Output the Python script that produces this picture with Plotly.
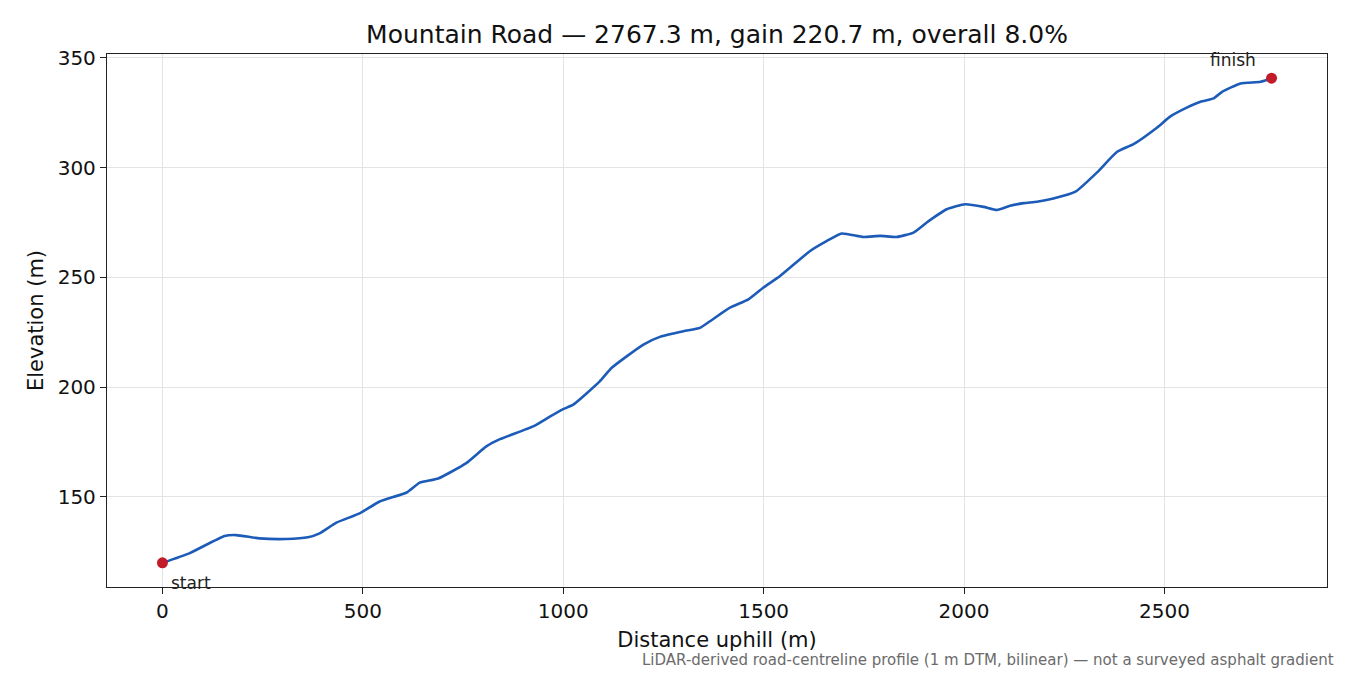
import plotly.graph_objects as go

# profile (distance along road, elevation)
distance = [0, 67, 155, 184, 242, 309, 363, 392, 434, 492, 542, 609, 642, 688,
            758, 808, 842, 925, 966, 1000, 1025, 1091, 1121, 1200, 1241, 1300,
            1341, 1366, 1416, 1462, 1499, 1541, 1616, 1658, 1695, 1749, 1791,
            1832, 1874, 1907, 1957, 2003, 2049, 2082, 2115, 2149, 2182, 2223,
            2278, 2332, 2382, 2423, 2482, 2515, 2557, 2590, 2623, 2644, 2690,
            2740, 2767.3]
elevation = [120, 124.3, 132.2, 132.6, 131.1, 130.8, 131.6, 133.4, 138.3, 142.5,
             147.9, 152, 156.5, 158.4, 165.4, 173, 176.3, 182.1, 186.5, 190, 192,
             202.6, 208.8, 219.4, 222.9, 225.5, 227, 230, 236.2, 240, 245.3,
             250.6, 262, 266.6, 270, 268.4, 268.9, 268.4, 270.4, 275, 281, 283.3,
             282.1, 280.7, 282.6, 283.8, 284.4, 285.9, 289, 297.8, 307.2, 310.7,
             318.3, 323.3, 327.4, 330, 331.5, 334.5, 338.3, 339.1, 340.7]

end_labels = ["start", "finish"]
x_ticks = [0, 500, 1000, 1500, 2000, 2500]
y_ticks = [150, 200, 250, 300, 350]

length = distance[-1]
gain = elevation[-1] - elevation[0]
grade = gain / length * 100

pad_x = length * 0.05
pad_y = gain * 0.05

fig = go.Figure()
fig.add_trace(go.Scatter(x=distance, y=elevation, mode="lines",
                         line=dict(color="#1c5cb8", width=2.6, shape="spline", smoothing=0.5),
                         hoverinfo="x+y"))
fig.add_trace(go.Scatter(x=[distance[0], distance[-1]], y=[elevation[0], elevation[-1]],
                         mode="markers", marker=dict(color="#c21b2a", size=11)))

fig.add_annotation(x=distance[0], y=elevation[0], text=end_labels[0], showarrow=False,
                   xanchor="left", yanchor="middle", xshift=7, yshift=-20,
                   font=dict(size=17, color="#222"))
fig.add_annotation(x=distance[-1], y=elevation[-1], text=end_labels[1], showarrow=False,
                   xanchor="center", yanchor="middle", xshift=-39, yshift=18,
                   font=dict(size=17, color="#222"))
fig.add_annotation(x=1.0074, y=0, xref="paper", yref="paper", xanchor="right", yanchor="middle",
                   yshift=-73, showarrow=False,
                   text="LiDAR-derived road-centreline profile (1 m DTM, bilinear) — not a surveyed asphalt gradient",
                   font=dict(size=15, color="#6b6b6b"))

axis_style = dict(showline=True, linecolor="#222", linewidth=1.3, mirror=True,
                  ticks="outside", ticklen=6, tickwidth=1.3, tickcolor="#222",
                  showgrid=True, gridcolor="#e3e3e3", gridwidth=1, zeroline=False,
                  tickfont=dict(size=20, color="#111"))

fig.update_xaxes(range=[-pad_x, length + pad_x], tickvals=x_ticks,
                 title=dict(text="Distance uphill (m)", font=dict(size=21, color="#111"), standoff=10),
                 **axis_style)
fig.update_yaxes(range=[elevation[0] - pad_y, elevation[-1] + pad_y], tickvals=y_ticks,
                 title=dict(text="Elevation (m)", font=dict(size=21, color="#111"), standoff=8),
                 **axis_style)

# page body has an 8px margin, so the figure is a little smaller than the window
fig.update_layout(
    width=1334, height=664,
    title=dict(text=f"Mountain Road — {length:.1f} m, gain {gain:.1f} m, overall {grade:.1f}%",
               xref="paper", x=0.5, xanchor="center", y=1 - 26 / 664, yanchor="middle",
               font=dict(size=25, color="#111")),
    font=dict(family="DejaVu Sans"),
    showlegend=False,
    plot_bgcolor="white", paper_bgcolor="white",
    margin=dict(l=99, r=15, t=46, b=85),
)

fig.write_html("out.html")
